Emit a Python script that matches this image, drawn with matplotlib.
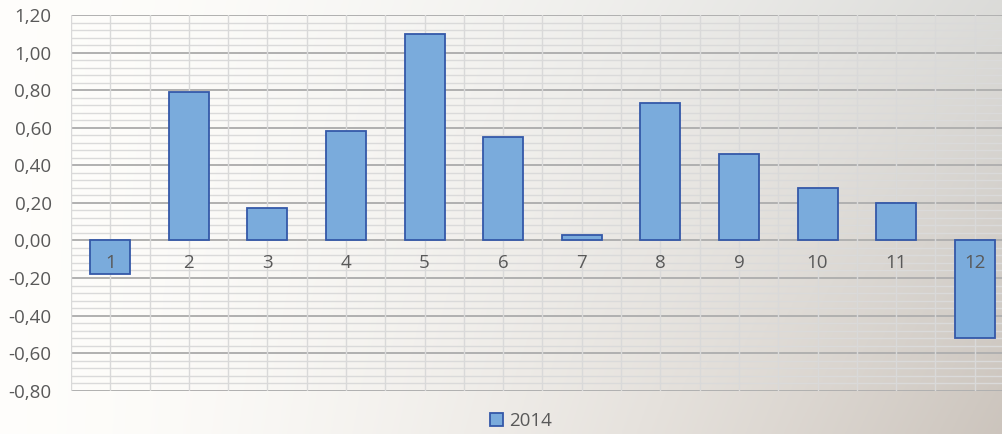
import numpy as np
import matplotlib
matplotlib.use("Agg")
import matplotlib.pyplot as plt
from matplotlib.ticker import FuncFormatter

# data
months = ["1", "2", "3", "4", "5", "6", "7", "8", "9", "10", "11", "12"]
values_2014 = [-0.18, 0.79, 0.17, 0.58, 1.10, 0.55, 0.03, 0.73, 0.46, 0.28, 0.20, -0.52]
series_name = "2014"

plt.rcParams['font.family'] = ['Open Sans', 'DejaVu Sans']

fig = plt.figure(figsize=(10.03, 4.34), dpi=100)

# background gradient (white on the left -> greyish beige on the right)
bg = fig.add_axes([0, 0, 1, 1], zorder=-10)
gx = np.linspace(0, 1, 400)[None, :]
gy = np.linspace(0, 1, 200)[:, None]
tx = gx ** 1.6
left = np.array([0.998, 0.995, 0.985])
right_top = np.array([0.86, 0.86, 0.85])
right_bot = np.array([0.80, 0.77, 0.74])
right = right_top[None, None, :] * (1 - gy[..., None]) + right_bot[None, None, :] * gy[..., None]
img = left[None, None, :] * (1 - tx[..., None]) + right * tx[..., None]
bg.imshow(img, aspect='auto', extent=[0, 1, 0, 1])
bg.axis('off')

ax = fig.add_axes([71 / 1003, (434 - 390.7) / 434, 943 / 1003, (390.7 - 15) / 434])
ax.patch.set_alpha(0)

x = np.arange(len(months))
ax.set_xlim(-0.5, len(months) - 0.5)
ax.set_ylim(-0.8, 1.2)

# gridlines drawn behind the bars
for v in np.arange(-0.8, 1.2001, 0.04):
    major = abs(v / 0.2 - round(v / 0.2)) < 1e-6
    ax.axhline(v, color='#b0b0b0' if major else '#dadada', lw=1.4 if major else 1.0, zorder=0.5)
for v in np.arange(-0.5, len(months), 0.5):
    ax.axvline(v, color='#d9d9d9', lw=1.0, zorder=0.6)

ax.bar(x, values_2014, width=0.51, color='#7aabdc', edgecolor='#3458a8', linewidth=1.3,
       zorder=2, label=series_name)

for s in ax.spines.values():
    s.set_visible(False)
ax.spines['bottom'].set_position(('data', 0))
ax.xaxis.set_zorder(3)
ax.set_xticks(x, months)
ax.set_yticks(np.arange(-0.8, 1.2001, 0.2))
ax.yaxis.set_major_formatter(FuncFormatter(lambda v, p: f"{v:.2f}".replace('.', ',').replace('-0,00', '0,00')))
ax.tick_params(axis='x', length=0, pad=10, labelsize=13.5, colors='#595959')
ax.tick_params(axis='y', length=0, pad=14, labelsize=13.5, colors='#595959')

leg = fig.legend(loc='center', bbox_to_anchor=(521 / 1003, 1 - 421 / 434), frameon=False,
                 handlelength=0.7, handleheight=0.7, handletextpad=0.3, fontsize=13.5)
for t in leg.get_texts():
    t.set_color('#595959')

fig.savefig('out.png', dpi=100)
